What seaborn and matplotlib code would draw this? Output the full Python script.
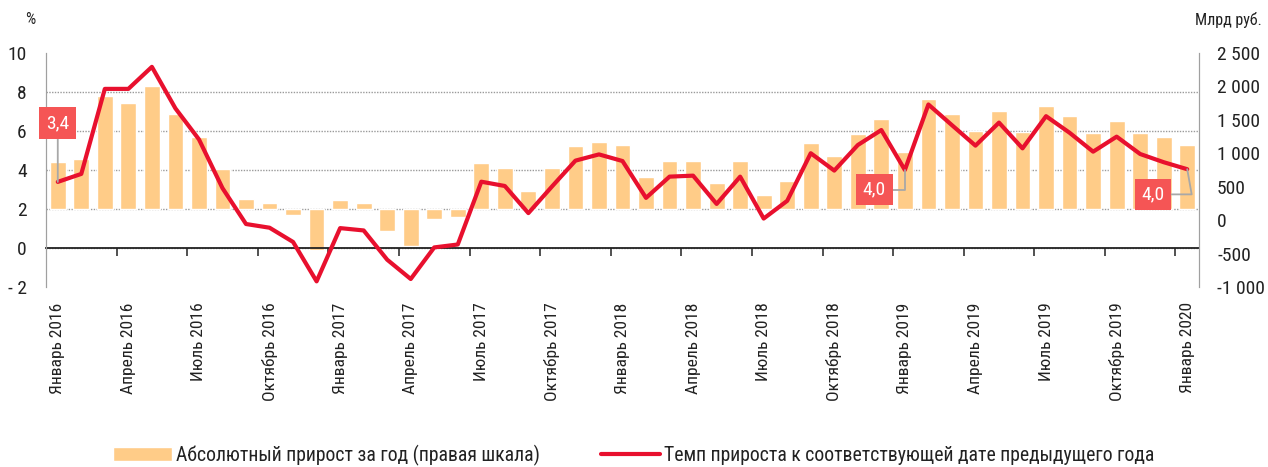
import numpy as np
import pandas as pd
import matplotlib
matplotlib.use("Agg")
import matplotlib.pyplot as plt
from matplotlib import font_manager as fm
import seaborn as sns

# months Jan 2016 .. Jan 2020
month_names = ["Январь", "Февраль", "Март", "Апрель", "Май", "Июнь",
               "Июль", "Август", "Сентябрь", "Октябрь", "Ноябрь", "Декабрь"]
months = [f"{month_names[i % 12]} {2016 + i // 12}" for i in range(49)]

# absolute growth for the year, bln rub (right scale)
abs_growth = [758, 801, 1816, 1699, 1967, 1523, 1159, 641, 160, 101, -96, -652,
              139, 91, -347, -598, -166, -123, 737, 652, 289, 652, 1005, 1074,
              1026, 508, 764, 764, 412, 764, 224, 449, 1063, 850, 1197, 1437,
              908, 1763, 1523, 1256, 1576, 1229, 1646, 1486, 1218, 1411, 1213, 1159,
              1031]

# growth rate vs same date of previous year, % (left scale)
growth_rate = [3.39, 3.80, 8.16, 8.16, 9.29, 7.16, 5.57, 3.07, 1.23, 1.04, 0.31, -1.71,
               1.02, 0.90, -0.60, -1.59, 0.03, 0.18, 3.40, 3.18, 1.79, 3.15, 4.48, 4.80,
               4.46, 2.57, 3.66, 3.71, 2.26, 3.66, 1.51, 2.42, 4.86, 3.97, 5.28, 6.05,
               4.00, 7.36, 6.30, 5.25, 6.43, 5.11, 6.76, 5.91, 4.94, 5.71, 4.82, 4.40,
               4.04]

left_ticks = [-2, 0, 2, 4, 6, 8, 10]
left_labels = ["- 2", "0", "2", "4", "6", "8", "10"]
right_labels = ["-1 000", "-500", "0", "500", "1 000", "1 500", "2 000", "2 500"]

df = pd.DataFrame({"pos": np.arange(len(months)), "month": months,
                   "abs": abs_growth, "rate": growth_rate})

BAR = "#FFCC88"
RED = "#E8102E"
LBL = "#F55555"

sns.set_style("white")
# narrow font if one is there
have = {f.name for f in fm.fontManager.ttflist}
narrow = [n for n in ["Liberation Sans Narrow", "Roboto Condensed", "Open Sans Condensed"]
          if n in have]
plt.rcParams["font.family"] = narrow + ["Liberation Sans", "DejaVu Sans"]
plt.rcParams["text.color"] = "#222222"
big = 14 if narrow else 13

fig = plt.figure(figsize=(12.68, 4.67), dpi=100)
ax1 = fig.add_axes([46 / 1268, 1 - 287 / 467, (1199 - 46) / 1268, 234 / 467])
ax2 = ax1.twinx()
ax2.set_zorder(0)
ax1.set_zorder(1)
ax1.patch.set_visible(False)

# bars on right scale
sns.barplot(data=df, x="pos", y="abs", native_scale=True, color=BAR, width=0.67,
            saturation=1, ax=ax2, label="Абсолютный прирост за год (правая шкала)")
ax2.set_ylim(-1250, 2500)
ax2.set_yticks(np.linspace(-1250, 2500, 8))
ax2.set_yticklabels(right_labels)
ax2.set_yticks(np.linspace(-1250, 2500, 7), minor=True)
ax2.grid(which="minor", axis="y", color="#9A9A9A", linestyle=(0, (1, 1)), lw=1.0)
ax2.grid(which="major", visible=False)
ax2.set_axisbelow(True)
ax2.tick_params(axis="y", which="both", length=0, labelsize=big, pad=13, colors="#222222")
ax2.set_ylabel("")

# line on left scale
sns.lineplot(data=df, x="pos", y="rate", color=RED, lw=3.0, ax=ax1,
             label="Темп прироста к соответствующей дате предыдущего года")
if ax1.get_legend() is not None:
    ax1.get_legend().remove()
if ax2.get_legend() is not None:
    ax2.get_legend().remove()

ax1.set_ylim(-2, 10)
ax1.set_yticks(left_ticks)
ax1.set_yticklabels(left_labels)
ax1.tick_params(axis="y", length=0, labelsize=big, pad=14, colors="#222222")
ax1.set_xlim(-0.5, 48.5)
ax1.set_xticks(np.arange(0, 49, 3))
ax1.set_xticklabels(months[::3], rotation=90, fontsize=12.6 if narrow else 11.5)
ax1.tick_params(axis="x", length=0, pad=11, colors="#222222")
ax1.set_xlabel("")
ax1.set_ylabel("")

for a in (ax1, ax2):
    a.spines["top"].set_visible(False)
    a.spines["bottom"].set_visible(False)
    a.spines["left"].set_color("#A0A0A0")
    a.spines["right"].set_color("#A0A0A0")
    a.spines["left"].set_linewidth(0.8)
    a.spines["right"].set_linewidth(0.8)

# zero line with quarter tick marks
sec = ax1.secondary_xaxis(2 / 12)
sec.set_xticks(np.arange(2.5, 48, 3))
sec.set_xticklabels([])
sec.tick_params(axis="x", direction="out", length=6, width=1.2, color="#333333")
sec.spines["bottom"].set_color("#222222")
sec.spines["bottom"].set_linewidth(1.3)

# value labels
box = dict(boxstyle="square,pad=0.35", fc=LBL, ec="none")
lead = dict(arrowstyle="-", color="#A8A8A8", lw=1.3, shrinkA=0, shrinkB=0)
ax1.annotate("3,4", xy=(0, growth_rate[0]), xytext=(0, 6.4), ha="center", va="center",
             color="white", fontsize=big, bbox=box, arrowprops=lead)
ax1.annotate("4,0", xy=(36, growth_rate[36]), xytext=(34.7, 3.0), ha="center", va="center",
             color="white", fontsize=big, bbox=box,
             arrowprops=dict(lead, connectionstyle="angle,angleA=0,angleB=90,rad=0"))
ax1.annotate("4,0", xy=(48, growth_rate[48]), xytext=(46.55, 2.75), ha="center", va="center",
             color="white", fontsize=big, bbox=box,
             arrowprops=dict(lead, connectionstyle="angle,angleA=0,angleB=100,rad=0"))

fig.text(30 / 1268, 1 - 20 / 467, "%", ha="center", va="center", fontsize=11.5)
fig.text(1262 / 1268, 1 - 20 / 467, "Млрд руб.", ha="right", va="center", fontsize=11.5)

h1, l1 = ax2.get_legend_handles_labels()
h2, l2 = ax1.get_legend_handles_labels()
fig.legend(h1 + h2, l1 + l2, loc="lower center", bbox_to_anchor=(0.5, -0.035), ncol=2,
           frameon=False, fontsize=14.2 if narrow else 12.7, handlelength=3.0,
           columnspacing=3.1, handletextpad=0.2)

fig.savefig("out.png", dpi=100)
